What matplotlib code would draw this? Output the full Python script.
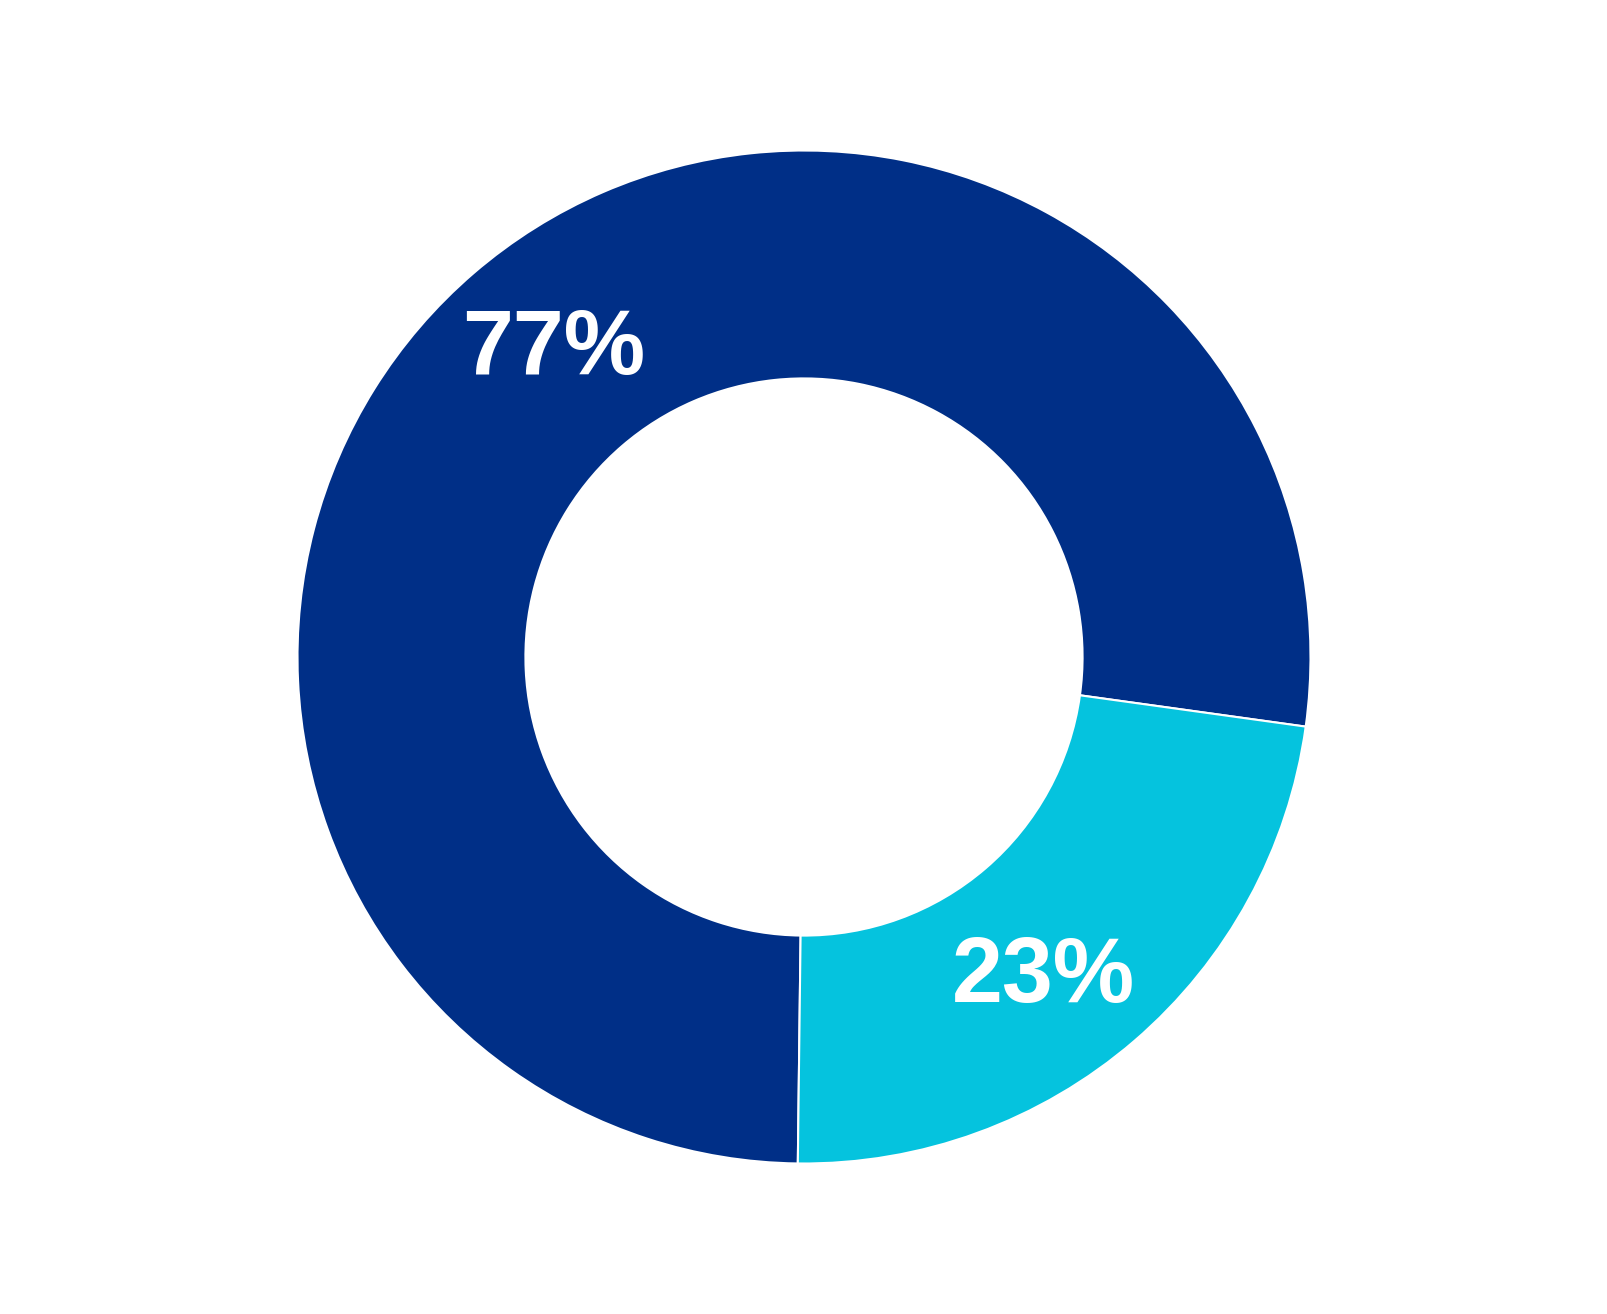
import matplotlib
matplotlib.use("Agg")
import matplotlib.pyplot as plt

labels = ["Segment A", "Segment B"]
values = [77, 23]
colors = ["#002F87", "#05C3DE"]
pct_labels = ["77%", "23%"]

W, H, DPI = 1608, 1314, 100
fig = plt.figure(figsize=(W / DPI, H / DPI), dpi=DPI)
cx, cy, R = 804, 657, 506.5
ax = fig.add_axes([(cx - R) / W, (H - cy - R) / H, 2 * R / W, 2 * R / H])

wedges, _ = ax.pie(values, colors=colors, startangle=-7.9, counterclock=True,
                   radius=1.0,
                   wedgeprops=dict(width=0.45, edgecolor="white", linewidth=1.5))
ax.set_xlim(-1, 1)
ax.set_ylim(-1, 1)
ax.set_aspect("equal")
ax.axis("off")

label_xy = [(-0.495, 0.606), (0.472, -0.634)]
for (x, y), t in zip(label_xy, pct_labels):
    ax.text(x, y, t, ha="center", va="center", color="white",
            fontsize=66, fontweight="bold", family="Liberation Sans")

fig.savefig("out.png", dpi=DPI, facecolor="white")
